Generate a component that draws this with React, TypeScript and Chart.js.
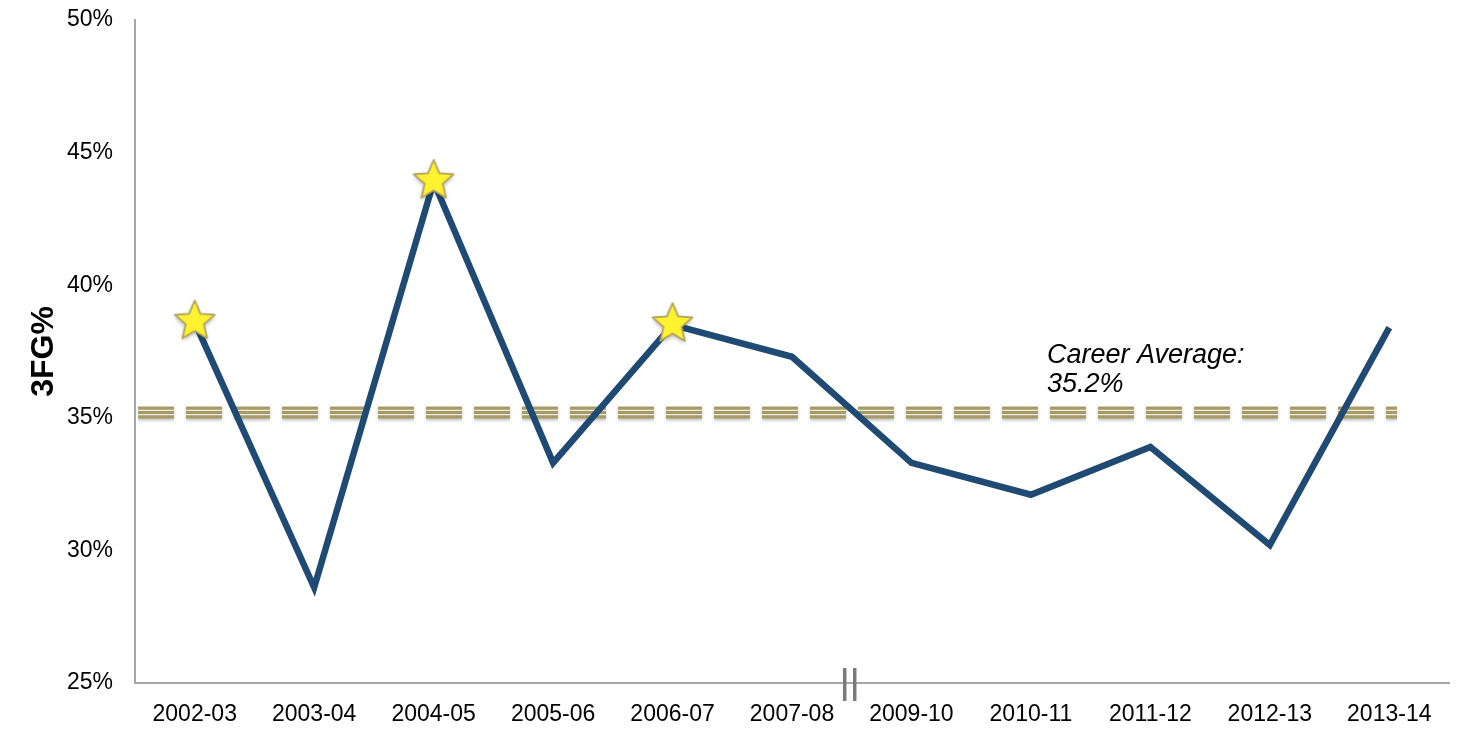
import React, { useEffect, useRef } from "react";
import { Chart, registerables } from "chart.js";

Chart.register(...registerables);

const seasons = [
  "2002-03", "2003-04", "2004-05", "2005-06", "2006-07", "2007-08",
  "2009-10", "2010-11", "2011-12", "2012-13", "2013-14",
];
const threePointPct = [38.6, 28.6, 43.9, 33.3, 38.5, 37.3, 33.3, 32.1, 33.9, 30.2, 38.4];
const starSeasons = ["2002-03", "2004-05", "2006-07"];
const careerAverage = 35.2;
const averageLabel = ["Career Average:", "35.2%"];
const labelSeason = "2010-11";
const breakAfterSeason = "2007-08";
const yMin = 25;
const yMax = 50;
const yStep = 5;

const FONT = "'Liberation Sans', Arial, Helvetica, sans-serif";

function makeStar(): HTMLCanvasElement {
  const c = document.createElement("canvas");
  c.width = 50;
  c.height = 50;
  const ctx = c.getContext("2d")!;
  const cx = 25, cy = 24, R = 21, r = 9.5;
  ctx.beginPath();
  for (let i = 0; i < 10; i++) {
    const rad = i % 2 === 0 ? R : r;
    const a = -Math.PI / 2 + (i * Math.PI) / 5;
    const x = cx + rad * Math.cos(a);
    const y = cy + rad * Math.sin(a);
    if (i === 0) ctx.moveTo(x, y);
    else ctx.lineTo(x, y);
  }
  ctx.closePath();
  ctx.save();
  ctx.shadowColor = "rgba(0,0,0,0.35)";
  ctx.shadowBlur = 4;
  ctx.shadowOffsetY = 2;
  ctx.fillStyle = "#fff22e";
  ctx.fill();
  ctx.restore();
  ctx.lineWidth = 1.8;
  ctx.strokeStyle = "#b3a45c";
  ctx.lineJoin = "round";
  ctx.stroke();
  return c;
}

const averagePlugin = {
  id: "careerAverage",
  beforeDatasetsDraw(chart: any) {
    const { ctx, chartArea, scales } = chart;
    const y = scales.y.getPixelForValue(careerAverage);
    const x0 = chartArea.left + 3;
    const x1 = scales.x.getPixelForValue(seasons.length - 1) + 8;
    ctx.save();
    ctx.beginPath();
    ctx.rect(x0, chartArea.top, x1 - x0, chartArea.bottom - chartArea.top);
    ctx.clip();
    ctx.setLineDash([36, 12]);
    ctx.lineDashOffset = 0;
    ctx.save();
    ctx.shadowColor = "rgba(0,0,0,0.25)";
    ctx.shadowBlur = 3;
    ctx.shadowOffsetY = 2;
    ctx.strokeStyle = "#a69c69";
    ctx.lineWidth = 12;
    ctx.beginPath();
    ctx.moveTo(x0, y);
    ctx.lineTo(x1, y);
    ctx.stroke();
    ctx.restore();
    ctx.strokeStyle = "#eeebdc";
    ctx.lineWidth = 1.2;
    for (const off of [-2.2, 2.2]) {
      ctx.beginPath();
      ctx.moveTo(x0, y + off);
      ctx.lineTo(x1, y + off);
      ctx.stroke();
    }
    ctx.restore();
  },
  afterDraw(chart: any) {
    const { ctx, scales, chartArea } = chart;
    const lx = scales.x.getPixelForValue(seasons.indexOf(labelSeason)) + 16;
    ctx.save();
    ctx.fillStyle = "#000";
    ctx.font = `italic 27px ${FONT}`;
    ctx.textAlign = "left";
    ctx.textBaseline = "middle";
    ctx.fillText(averageLabel[0], lx, scales.y.getPixelForValue(careerAverage) - 57);
    ctx.fillText(averageLabel[1], lx, scales.y.getPixelForValue(careerAverage) - 28);
    const i = seasons.indexOf(breakAfterSeason);
    const bx = (scales.x.getPixelForValue(i) + scales.x.getPixelForValue(i + 1)) / 2 - 2;
    ctx.strokeStyle = "#7a7a7a";
    ctx.lineWidth = 3.5;
    for (const off of [-5, 5]) {
      ctx.beginPath();
      ctx.moveTo(bx + off, chartArea.bottom - 15);
      ctx.lineTo(bx + off, chartArea.bottom + 18);
      ctx.stroke();
    }
    ctx.restore();
  },
};

export default function App() {
  const ref = useRef<HTMLCanvasElement | null>(null);
  useEffect(() => {
    document.body.style.margin = "0";
    const star = makeStar();
    const chart = new Chart(ref.current!, {
      type: "line",
      data: {
        labels: seasons,
        datasets: [
          {
            data: threePointPct,
            borderColor: "#1f4a73",
            borderWidth: 6.5,
            tension: 0,
            fill: false,
            pointBorderWidth: 0,
            pointStyle: (c: any) => (starSeasons.includes(seasons[c.dataIndex]) ? star : "circle") as any,
            pointRadius: seasons.map((s) => (starSeasons.includes(s) ? 20 : 0)),
            pointHoverRadius: seasons.map((s) => (starSeasons.includes(s) ? 20 : 0)),
          },
        ],
      },
      options: {
        responsive: false,
        animation: false,
        layout: { autoPadding: false, padding: { top: 20, right: 23, left: 0, bottom: 0 } },
        plugins: { legend: { display: false }, tooltip: { enabled: false } },
        scales: {
          x: {
            type: "category",
            offset: true,
            grid: { display: false, drawTicks: false },
            border: { display: true, color: "#a6a6a6", width: 2 },
            ticks: { color: "#000", font: { family: FONT, size: 23 }, padding: 18, maxRotation: 0, autoSkip: false },
            afterFit: (s: any) => {
              s.height = 51;
              s.paddingLeft = 0;
              s.paddingRight = 0;
            },
          },
          y: {
            min: yMin,
            max: yMax,
            grid: { display: false, drawTicks: false },
            border: { display: true, color: "#a6a6a6", width: 2 },
            ticks: {
              stepSize: yStep,
              color: "#000",
              font: { family: FONT, size: 23 },
              padding: 22,
              callback: (v: any) => `${v}%`,
            },
            title: {
              display: true,
              text: "3FG%",
              color: "#000",
              font: { family: FONT, size: 32, weight: "bold" },
              padding: { top: 25, bottom: 0 },
            },
            afterFit: (s: any) => {
              s.width = 135;
              s.paddingTop = 0;
              s.paddingBottom = 0;
            },
          },
        },
      },
      plugins: [averagePlugin],
    });
    return () => chart.destroy();
  }, []);
  return (
    <div style={{ width: 1472, height: 734 }}>
      <canvas ref={ref} width={1472} height={734} style={{ display: "block" }} />
    </div>
  );
}
